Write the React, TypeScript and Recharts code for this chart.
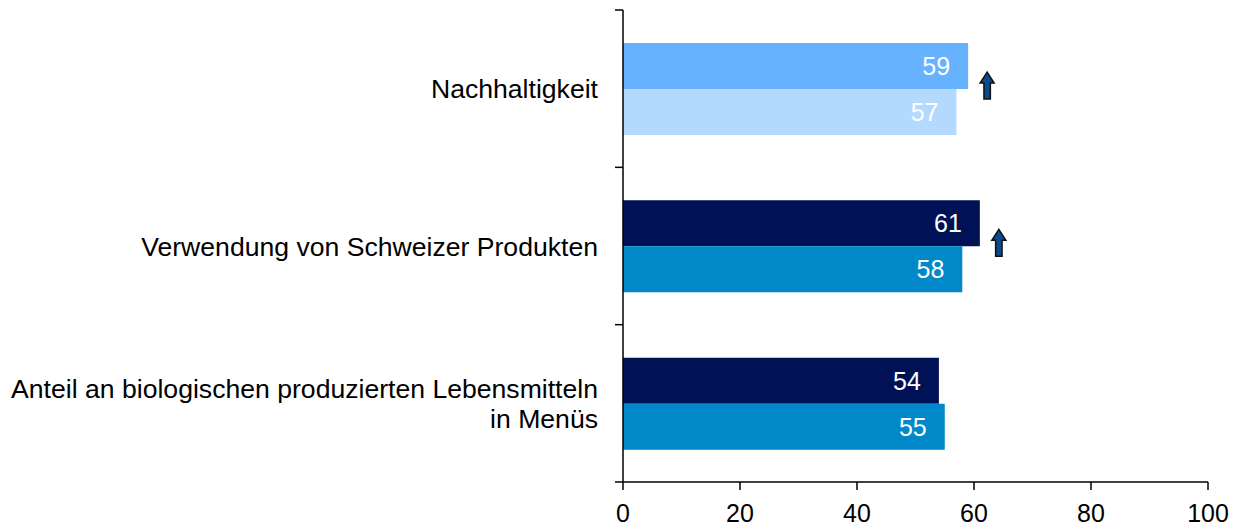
import * as React from 'react';
import { BarChart, Bar, Cell, XAxis, YAxis, LabelList } from 'recharts';

const categories = [
  ['Nachhaltigkeit'],
  ['Verwendung von Schweizer Produkten'],
  ['Anteil an biologischen produzierten Lebensmitteln', 'in Menüs'],
];
const current = [59, 61, 54];
const previous = [57, 58, 55];
const trendUp = [true, true, false];
const xTicks = [0, 20, 40, 60, 80, 100];

const currentColors = ['#66B2FF', '#001155', '#001155'];
const previousColors = ['#B3D9FF', '#0088C9', '#0088C9'];

const W = 1233;
const H = 531;
const M = { top: 10, right: 25, left: 0, bottom: 0 };
const X_AXIS_H = 49;
const Y_AXIS_W = 623;
const TICK = 8;
const GAP = 17;
const FONT = '"Liberation Sans", Arial, sans-serif';

const data = categories.map((lines, i) => ({
  name: lines.join(' '),
  lines,
  current: current[i],
  previous: previous[i],
  up: trendUp[i],
}));

const bandH = (H - M.top - M.bottom - X_AXIS_H) / data.length;

const CategoryTick = (props: any) => {
  const { x, y, index } = props;
  const item = data[index];
  if (!item) return null;
  const axisX = x + TICK + GAP;
  const lineH = 30;
  const startY = y - ((item.lines.length - 1) * lineH) / 2;
  return (
    <g>
      <line x1={axisX - TICK} x2={axisX} y1={y - bandH / 2} y2={y - bandH / 2} stroke="#000" strokeWidth={1.5} />
      {index === data.length - 1 && (
        <line x1={axisX - TICK} x2={axisX} y1={y + bandH / 2} y2={y + bandH / 2} stroke="#000" strokeWidth={1.5} />
      )}
      <text x={x} y={startY} textAnchor="end" fontSize={26.6} fontFamily={FONT} fill="#000">
        {item.lines.map((l: string, i: number) => (
          <tspan key={i} x={x} y={startY + i * lineH} dy="0.36em">
            {l}
          </tspan>
        ))}
      </text>
    </g>
  );
};

// small upward arrow to the right of the current bar
const TrendArrow = (props: any) => {
  const { x, y, width, index } = props;
  if (!data[index] || !data[index].up) return null;
  const cx = x + width + 19;
  const top = y + 29;
  const h = 27;
  const hw = 7;
  const sw = 3.2;
  const headH = 11;
  const d = `M${cx},${top} L${cx + hw},${top + headH} L${cx + sw},${top + headH} L${cx + sw},${top + h} L${cx - sw},${top + h} L${cx - sw},${top + headH} L${cx - hw},${top + headH} Z`;
  return <path d={d} fill="#0B4A8C" stroke="#111" strokeWidth={1.5} />;
};

export default function App() {
  return (
    <div style={{ position: 'absolute', left: 0, top: 0, background: '#fff' }}>
      <BarChart
        width={W}
        height={H}
        data={data}
        layout="vertical"
        margin={M}
        barCategoryGap="21%"
        barGap={0}
      >
        <XAxis
          type="number"
          domain={[0, 100]}
          ticks={xTicks}
          height={X_AXIS_H}
          tickSize={TICK}
          tickMargin={14}
          axisLine={{ stroke: '#000', strokeWidth: 1.5 }}
          tickLine={{ stroke: '#000', strokeWidth: 1.5 }}
          tick={{ fontSize: 25, fill: '#000', fontFamily: FONT }}
        />
        <YAxis
          type="category"
          dataKey="name"
          width={Y_AXIS_W}
          tickSize={TICK}
          tickMargin={GAP}
          tickLine={false}
          axisLine={{ stroke: '#000', strokeWidth: 1.5 }}
          tick={<CategoryTick />}
          interval={0}
        />
        <Bar dataKey="current" isAnimationActive={false}>
          {data.map((_, i) => (
            <Cell key={i} fill={currentColors[i]} />
          ))}
          <LabelList dataKey="current" position="insideRight" offset={18} fill="#fff" fontSize={25} fontFamily={FONT} />
          <LabelList dataKey="current" content={<TrendArrow />} />
        </Bar>
        <Bar dataKey="previous" isAnimationActive={false}>
          {data.map((_, i) => (
            <Cell key={i} fill={previousColors[i]} />
          ))}
          <LabelList dataKey="previous" position="insideRight" offset={18} fill="#fff" fontSize={25} fontFamily={FONT} />
        </Bar>
      </BarChart>
    </div>
  );
}
